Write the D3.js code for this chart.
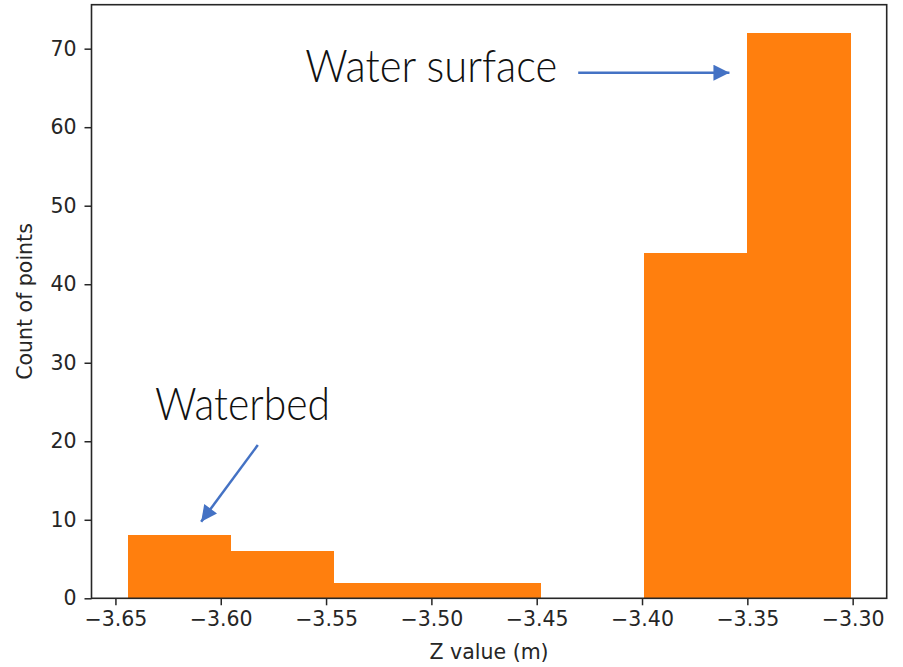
<!DOCTYPE html>
<html>
<head>
<meta charset="utf-8">
<script src="https://cdn.jsdelivr.net/npm/d3@7"></script>
<style>
    body { margin: 0; background: #fff; }
    svg { display: block; }
</style>
</head>
<body>
<div id="chart"></div>
<script>
// ---------------------------------- Data ----------------------------------
var binEdges = [-3.6442, -3.5951, -3.5461, -3.4971, -3.4480, -3.3990, -3.3500, -3.3010];
var counts = [8, 6, 2, 2, 0, 44, 72];
var xTicks = [-3.65, -3.60, -3.55, -3.50, -3.45, -3.40, -3.35, -3.30];
var yTicks = [0, 10, 20, 30, 40, 50, 60, 70];

// annotations, in data units: [text, textX, textY, arrowFromX, arrowFromY, arrowToX, arrowToY]
var notes = [
    ["Water surface", -3.5599, 65.8, -3.4303, 66.94, -3.3585, 66.94],
    ["Waterbed", -3.6312, 22.7, -3.5824, 19.52, -3.6093, 9.76]
];
// drawn width of each annotation text (px), the font is a narrow light face
var noteWidths = [252, 175];

// ---------------------------------- Layout ----------------------------------
var width = 903, height = 667;
var plot = { left: 91.5, right: 886.7, top: 4.7, bottom: 598.3 };
var tickFont = "'DejaVu Sans', sans-serif";
var ink = "#262626";

var svg = d3.select("#chart")
    .append("svg")
    .attr("width", width)
    .attr("height", height);

// matplotlib style 5% margins round the data
var span = binEdges[binEdges.length - 1] - binEdges[0];
var x = d3.scaleLinear()
    .domain([binEdges[0] - span * 0.05, binEdges[binEdges.length - 1] + span * 0.05])
    .range([plot.left, plot.right]);
var y = d3.scaleLinear()
    .domain([0, d3.max(counts) * 1.05])
    .range([plot.bottom, plot.top]);

// Bars
var bins = counts.map(function (c, i) { return { x0: binEdges[i], x1: binEdges[i + 1], n: c }; });
svg.selectAll("rect.bar")
    .data(bins)
    .enter()
    .append("rect")
    .attr("class", "bar")
    .attr("x", function (d) { return x(d.x0); })
    .attr("y", function (d) { return y(d.n); })
    .attr("width", function (d) { return x(d.x1) - x(d.x0); })
    .attr("height", function (d) { return y(0) - y(d.n); })
    .attr("shape-rendering", "crispEdges")
    .attr("fill", "#ff7f0e");

// Axes
var fmtX = function (d) { return d3.format(".2f")(d).replace("-", "\u2212"); };
var xAxis = svg.append("g")
    .attr("transform", "translate(0," + plot.bottom + ")")
    .call(d3.axisBottom(x).tickValues(xTicks).tickFormat(fmtX).tickSizeInner(7).tickSizeOuter(0).tickPadding(6));
var yAxis = svg.append("g")
    .attr("transform", "translate(" + plot.left + ",0)")
    .call(d3.axisLeft(y).tickValues(yTicks).tickSizeInner(7).tickSizeOuter(0).tickPadding(8));

[xAxis, yAxis].forEach(function (g) {
    g.select(".domain").remove();
    g.selectAll(".tick line").attr("stroke", ink).attr("stroke-width", 1.5);
    g.selectAll(".tick text")
        .attr("fill", ink)
        .style("font-family", tickFont)
        .style("font-size", "20.5px");
});

// Frame
svg.append("rect")
    .attr("x", plot.left)
    .attr("y", plot.top)
    .attr("width", plot.right - plot.left)
    .attr("height", plot.bottom - plot.top)
    .attr("fill", "none")
    .attr("stroke", ink)
    .attr("stroke-width", 1.6);

// Axis titles
svg.append("text")
    .attr("x", (plot.left + plot.right) / 2)
    .attr("y", 659)
    .attr("text-anchor", "middle")
    .attr("fill", ink)
    .style("font-family", tickFont)
    .style("font-size", "20.5px")
    .text("Z value (m)");

svg.append("text")
    .attr("transform", "translate(32," + ((plot.top + plot.bottom) / 2) + ") rotate(-90)")
    .attr("text-anchor", "middle")
    .attr("fill", ink)
    .style("font-family", tickFont)
    .style("font-size", "20.5px")
    .text("Count of points");

// ---------------------------------- Annotations ----------------------------------
svg.append("defs").append("marker")
    .attr("id", "head")
    .attr("viewBox", "0 0 10 10")
    .attr("refX", 10)
    .attr("refY", 5)
    .attr("markerUnits", "userSpaceOnUse")
    .attr("markerWidth", 17)
    .attr("markerHeight", 16)
    .attr("orient", "auto")
    .append("path")
    .attr("d", "M0,0 L10,5 L0,10 Z")
    .attr("fill", "#4472c4");

notes.forEach(function (n, i) {
    svg.append("text")
        .attr("x", x(n[1]))
        .attr("y", y(n[2]))
        .attr("fill", "#111")
        .attr("textLength", noteWidths[i])
        .attr("lengthAdjust", "spacingAndGlyphs")
        .style("font-family", "Lato, 'Open Sans', sans-serif")
        .style("font-weight", 300)
        .style("font-size", "45px")
        .text(n[0]);

    svg.append("line")
        .attr("x1", x(n[3]))
        .attr("y1", y(n[4]))
        .attr("x2", x(n[5]))
        .attr("y2", y(n[6]))
        .attr("stroke", "#4472c4")
        .attr("stroke-width", 2.5)
        .attr("marker-end", "url(#head)");
});
</script>
</body>
</html>
